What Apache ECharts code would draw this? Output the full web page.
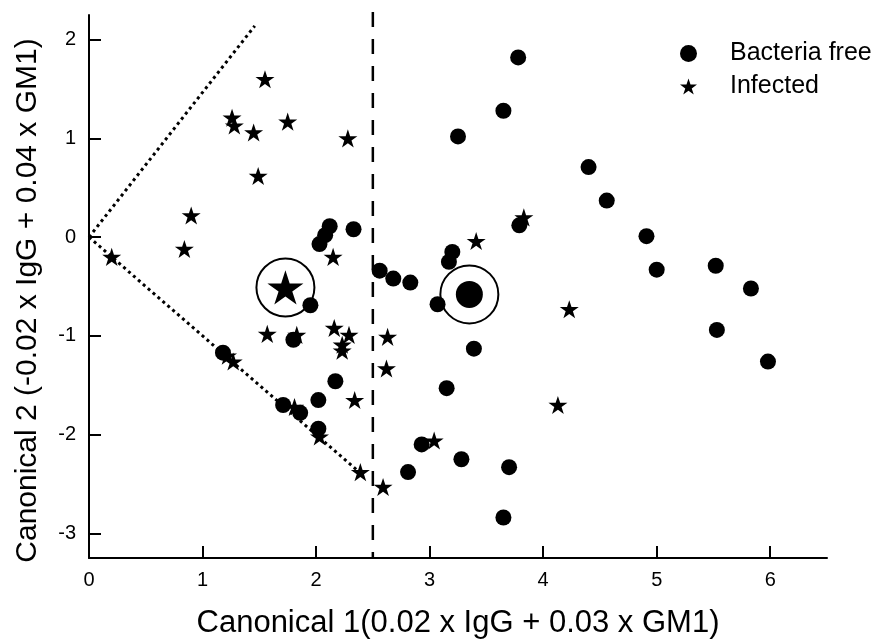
<!DOCTYPE html>
<html>
<head>
<meta charset="utf-8">
<script src="https://cdn.jsdelivr.net/npm/echarts@6/dist/echarts.min.js"></script>
<style>html,body{margin:0;padding:0;background:#fff}#c{width:887px;height:644px}</style>
</head>
<body>
<div id="c"></div>
<script>
// ---- data ----
const freePoints = [
  [3.78,1.82],[3.65,1.28],[3.25,1.02],[4.40,0.71],[4.56,0.37],[3.79,0.12],[4.91,0.01],[5.00,-0.33],
  [5.52,-0.29],[5.83,-0.52],[5.53,-0.94],[5.98,-1.26],
  [3.20,-0.15],[3.17,-0.25],[2.56,-0.34],[2.68,-0.42],[2.83,-0.46],[3.07,-0.68],[3.39,-1.13],[3.15,-1.53],
  [2.93,-2.10],[3.28,-2.25],[3.70,-2.33],[2.81,-2.38],[3.65,-2.84],
  [2.12,0.11],[2.08,0.02],[2.03,-0.07],[2.33,0.08],
  [1.95,-0.69],[1.80,-1.04],[2.17,-1.46],[1.18,-1.17],[1.71,-1.70],[1.86,-1.78],[2.02,-1.65],[2.02,-1.94]
];
const infectedPoints = [
  [1.55,1.60],[1.26,1.21],[1.28,1.13],[1.45,1.06],[1.75,1.17],[2.28,1.00],[1.49,0.62],[0.90,0.22],
  [0.84,-0.12],[0.20,-0.20],[2.15,-0.20],
  [3.83,0.20],[3.41,-0.04],[4.23,-0.73],[4.13,-1.70],[3.04,-2.06],[2.39,-2.38],[2.59,-2.53],
  [2.63,-1.01],[2.62,-1.33],[2.34,-1.65],[2.29,-0.99],[1.57,-0.98],[1.83,-0.99],[2.16,-0.92],
  [2.23,-1.15],[2.23,-1.09],[1.22,-1.20],[1.27,-1.26],[1.81,-1.72],[2.03,-2.02]
];
const centroidFree = [[3.35,-0.58]];
const centroidInfected = [[1.73,-0.51]];
const upperBoundary = [[0,0],[1.46,2.14]];
const lowerBoundary = [[0,0],[2.39,-2.39]];
const cutoffLine = [[2.5,2.28],[2.5,-3.25]];
const xTicks = [0,1,2,3,4,5,6];
const yTicks = [-3,-2,-1,0,1,2];
const seriesNames = ['Bacteria free','Infected'];
const xTitle = 'Canonical 1(0.02 x IgG + 0.03 x GM1)';
const yTitle = 'Canonical 2 (-0.02 x IgG + 0.04 x GM1)';

const FONT = '"Liberation Sans", Arial, Helvetica, sans-serif';
const STAR = 'path://M100,0 L122.45,69.1 L195.1,69.1 L136.3,111.8 L158.8,180.9 L100,138.2 L41.2,180.9 L63.7,111.8 L4.9,69.1 L77.55,69.1 Z';

const chart = echarts.init(document.getElementById('c'), null, {renderer:'canvas'});
const tickStyle = {show:true, inside:true, length:12, lineStyle:{color:'#000', width:2}};
const lineStyleAxis = {show:true, onZero:false, lineStyle:{color:'#000', width:2}};
const solid = {color:'#000', opacity:1};
chart.setOption({
  animation:false,
  backgroundColor:'#fff',
  grid:{left:89, right:60, top:15, bottom:84, containLabel:false},
  legend:{
    data:[{name:seriesNames[0], icon:'circle'},{name:seriesNames[1], icon:STAR}],
    orient:'vertical', left:675, top:36, itemWidth:17, itemHeight:17, itemGap:8,
    itemStyle:{opacity:1},
    textStyle:{color:'#000', fontSize:25, fontFamily:FONT, padding:[0,0,0,28]},
    selectedMode:false
  },
  xAxis:{
    type:'value', min:0, max:6.5,
    name:xTitle, nameLocation:'middle', nameGap:50,
    nameTextStyle:{color:'#000', fontSize:31, fontFamily:FONT},
    axisLine:lineStyleAxis,
    axisTick:Object.assign({}, tickStyle, {customValues:xTicks}),
    splitLine:{show:false},
    axisLabel:{show:true, color:'#000', fontSize:20, fontFamily:FONT, margin:12, customValues:xTicks}
  },
  yAxis:{
    type:'value', min:-3.25, max:2.25,
    name:yTitle, nameLocation:'middle', nameGap:46,
    nameTextStyle:{color:'#000', fontSize:30, fontFamily:FONT, padding:[0,28,0,0]},
    axisLine:lineStyleAxis,
    axisTick:Object.assign({}, tickStyle, {customValues:yTicks}),
    splitLine:{show:false},
    axisLabel:{show:true, color:'#000', fontSize:20, fontFamily:FONT, margin:13, customValues:yTicks}
  },
  series:[
    {type:'line', data:upperBoundary, symbol:'none', silent:true, clip:false,
      lineStyle:{color:'#000', width:3, type:[3,3.5]}},
    {type:'line', data:lowerBoundary, symbol:'none', silent:true, clip:false,
      lineStyle:{color:'#000', width:3, type:[3,3.5]}},
    {type:'line', data:cutoffLine, symbol:'none', silent:true, clip:false,
      lineStyle:{color:'#000', width:2.5, type:[15,12]}},
    {name:seriesNames[0], type:'scatter', data:freePoints, symbol:'circle', symbolSize:16,
      itemStyle:solid},
    {name:seriesNames[1], type:'scatter', data:infectedPoints, symbol:STAR, symbolKeepAspect:true, symbolSize:19,
      itemStyle:solid},
    {name:'ringFree', type:'scatter', data:centroidFree, symbol:'circle', symbolSize:58,
      itemStyle:{color:'rgba(0,0,0,0)', borderColor:'#000', borderWidth:2, opacity:1}},
    {name:'ringInfected', type:'scatter', data:centroidInfected, symbol:'circle', symbolSize:58,
      itemStyle:{color:'rgba(0,0,0,0)', borderColor:'#000', borderWidth:2, opacity:1}},
    {name:'centroidFree', type:'scatter', data:centroidFree, symbol:'circle', symbolSize:27,
      itemStyle:solid},
    {name:'centroidInfected', type:'scatter', data:centroidInfected, symbol:STAR, symbolKeepAspect:true, symbolSize:36,
      itemStyle:solid}
  ]
});
</script>
</body>
</html>
